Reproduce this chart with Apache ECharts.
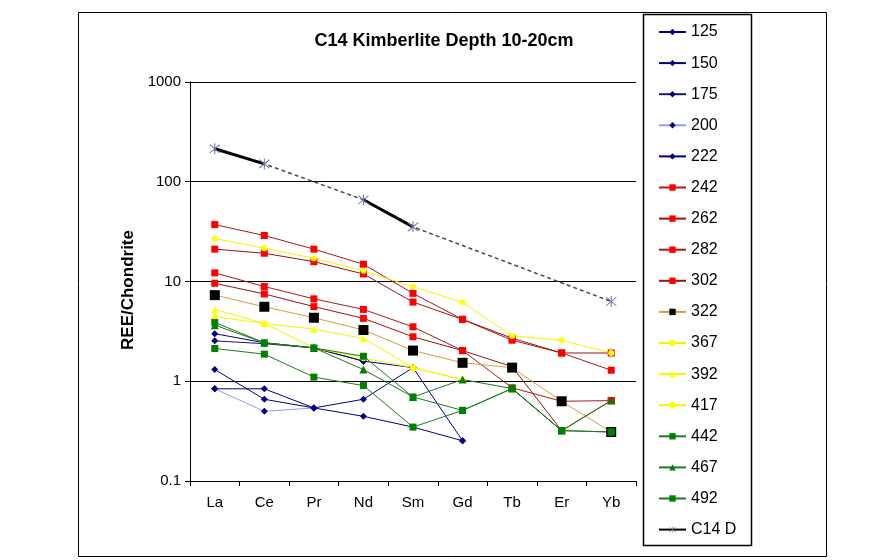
<!DOCTYPE html>
<html><head><meta charset="utf-8">
<script src="https://cdn.jsdelivr.net/npm/echarts@6/dist/echarts.min.js"></script>
<style>html,body{margin:0;padding:0;background:#fff}#c{width:889px;height:560px}</style>
</head><body><div id="c"></div>
<script>
var categories = ['La','Ce','Pr','Nd','Sm','Gd','Tb','Er','Yb'];
var s125 = [0.84, 0.84, 0.54, 0.66, 1.37, 0.253, null, null, null];
var s150 = [3.0, 2.43, 2.16, 1.59, 1.37, null, null, null, null];
var s175 = [2.54, 2.38, 2.16, 1.59, null, null, null, null, null];
var s200 = [0.84, 0.50, 0.54, null, null, null, null, null, null];
var s222 = [1.31, 0.66, 0.54, 0.445, 0.347, 0.253, null, null, null];
var s242 = [37.2, 28.9, 21.1, 14.9, 7.6, 4.17, 2.58, 1.92, 1.29];
var s262 = [21.1, 19.2, 15.8, 11.9, 6.22, 4.17, 2.7, 1.92, 1.92];
var s282 = [12.2, 8.9, 6.7, 5.25, 3.51, 2.03, 0.86, 0.63, 0.64];
var s302 = [9.6, 7.5, 5.6, 4.27, 2.79, 2.03, 1.4, 0.32, 0.64];
var s322 = [7.3, 5.58, 4.33, 3.26, 2.03, 1.53, 1.37, 0.63, 0.31];
var s367 = [26.9, 21.6, 17.1, 12.8, 8.87, 6.18, 2.85, 2.58, 1.92];
var s392 = [5.25, 3.8, 3.33, 2.69, 1.37, 1.04, null, null, null];
var s417 = [4.43, 3.8, 2.16, 1.7, 1.37, 1.04, null, null, null];
var s442 = [2.13, 1.87, 1.10, 0.905, 0.347, 0.51, 0.845, 0.32, 0.31];
var s467 = [3.65, 2.43, 2.16, 1.31, 0.695, 1.04, 0.845, 0.32, 0.64];
var s492 = [3.89, 2.43, 2.16, 1.78, 0.695, 0.51, 0.845, 0.32, 0.31];
var sC14 = [214, 151, null, 66, 35.3, null, null, null, 6.3];
var yTicks = [0.1, 1, 10, 100, 1000];

var FONT = '"Liberation Sans", Arial, sans-serif';
var star = 'path://M-4.6,-5.4 L5.4,4.6 L4.6,5.4 L-5.4,-4.6 Z M4.6,-5.4 L5.4,-4.6 L-4.6,5.4 L-5.4,4.6 Z M-0.5,-6.5 L0.5,-6.5 L0.5,6.5 L-0.5,6.5 Z';

function mk(name, data, line, mcol, sym, size, width) {
  return {
    name: name, type: 'line', data: data, connectNulls: false,
    symbol: sym, symbolSize: size, showAllSymbol: true,
    lineStyle: {color: line, width: width || 1},
    itemStyle: {color: mcol, borderWidth: 0},
    emphasis: {disabled: true}, animation: false
  };
}

var series = [
  {name: 'C14 D trend', type: 'line', data: sC14, connectNulls: true, symbol: 'none',
   lineStyle: {color: '#4a4a4a', width: 1.5, type: [4, 3]}, z: 1, animation: false, silent: true},
  mk('125', s125, '#000080', '#000080', 'diamond', 7),
  mk('150', s150, '#000080', '#000080', 'diamond', 7),
  mk('175', s175, '#1a1a60', '#000080', 'diamond', 7),
  mk('200', s200, '#9999ff', '#000080', 'diamond', 7),
  mk('222', s222, '#000080', '#000080', 'diamond', 7),
  mk('242', s242, '#b01818', '#ff0000', 'rect', 7),
  mk('262', s262, '#a01010', '#ff0000', 'rect', 7),
  mk('282', s282, '#b01818', '#ff0000', 'rect', 7),
  mk('302', s302, '#a01010', '#ff0000', 'rect', 7),
  mk('322', s322, '#d4a040', '#000000', 'rect', 10),
  mk('367', s367, '#f5f500', '#ffff00', 'circle', 6),
  mk('392', s392, '#f5f500', '#ffff00', 'triangle', 7),
  mk('417', s417, '#f5f500', '#ffff00', 'circle', 6),
  mk('442', s442, '#1e7a1e', '#008000', 'rect', 7),
  mk('467', s467, '#1e7a1e', '#008000', 'triangle', 8),
  mk('492', s492, '#1e7a1e', '#008000', 'rect', 7),
  mk('C14 D', sC14, '#000000', '#6a7a9a', star, 11, 3)
];
series[series.length - 1].z = 5;

var legendNames = ['125','150','175','200','222','242','262','282','302','322','367','392','417','442','467','492','C14 D'];

var chart = echarts.init(document.getElementById('c'), null, {renderer: 'canvas'});
chart.setOption({
  backgroundColor: '#ffffff',
  animation: false,
  textStyle: {fontFamily: FONT},
  title: {text: 'C14 Kimberlite Depth 10-20cm', left: 439, top: 27, textAlign: 'center',
    textStyle: {fontFamily: FONT, fontSize: 18, fontWeight: 'bold', color: '#000'}},
  grid: {left: 190, top: 82, width: 446, height: 399, containLabel: false},
  xAxis: {
    type: 'category', data: categories, boundaryGap: true,
    axisLine: {lineStyle: {color: '#000', width: 1}},
    axisTick: {show: true, length: 5, lineStyle: {color: '#000'}},
    axisLabel: {fontFamily: FONT, fontSize: 15, color: '#000', margin: 14},
    splitLine: {show: false}
  },
  yAxis: {
    type: 'log', logBase: 10, min: 0.1, max: 1000,
    axisLine: {show: true, lineStyle: {color: '#000', width: 1}},
    axisTick: {show: true, length: 5, lineStyle: {color: '#000'}},
    axisLabel: {fontFamily: FONT, fontSize: 15, color: '#000', margin: 9,
      formatter: function (v) { return Math.abs(v - 0.1) < 1e-9 ? '0.1' : String(Math.round(v)); }},
    splitLine: {show: true, lineStyle: {color: '#000', width: 1}}
  },
  legend: {
    data: legendNames, orient: 'vertical', left: 658, top: 24, padding: 0,
    itemWidth: 27, itemHeight: 8, itemGap: 15.1, height: 520,
    textStyle: {fontFamily: FONT, fontSize: 16, color: '#000'},
    selectedMode: false
  },
  graphic: [
    {type: 'rect', shape: {x: 78.5, y: 12.5, width: 748, height: 544}, style: {fill: 'none', stroke: '#000', lineWidth: 1}, z: -1},
    {type: 'rect', shape: {x: 643.5, y: 14.5, width: 108, height: 531}, style: {fill: 'none', stroke: '#000', lineWidth: 1.5}},
    {type: 'text', x: 128, y: 290, rotation: Math.PI / 2, style: {text: 'REE/Chondrite', font: 'bold 17px ' + FONT, fill: '#000', textAlign: 'center', textVerticalAlign: 'middle'}}
  ],
  series: series
});
</script></body></html>
